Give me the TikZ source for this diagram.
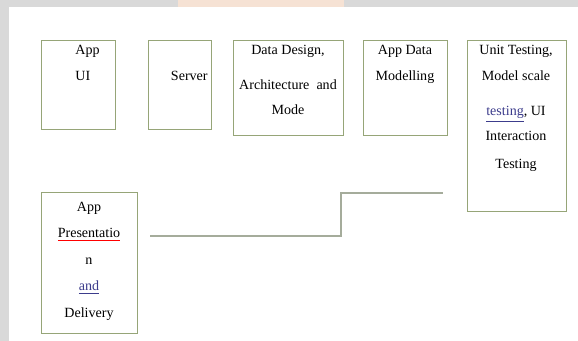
\documentclass[tikz,border=0pt]{standalone}
\usepackage{fontspec}
\setmainfont{Liberation Serif}
\usetikzlibrary{positioning}

\definecolor{boxgreen}{RGB}{150,165,120}
\definecolor{linegray}{RGB}{165,172,155}
\definecolor{pagegray}{RGB}{217,217,217}
\definecolor{wmark}{RGB}{246,226,212}
\definecolor{markblue}{RGB}{60,60,140}
\newcommand{\redline}[1]{\leavevmode\rlap{\color{red}\underline{\phantom{#1}}}#1}
\newcommand{\blueline}[1]{{\color{markblue}\underline{#1}}}

\begin{document}
\begin{tikzpicture}
[x=0.02cm,y=-0.02cm,
box/.style={rectangle,draw=boxgreen,line width=0.6pt,inner sep=0pt,anchor=north west},
words/.style={inner sep=0pt,font=\fontsize{8}{14.5}\selectfont},
link/.style={draw=linegray,line width=0.7pt}]
% page and margins
\fill[pagegray] (0,0) rectangle (578,341);
\useasboundingbox (0,0) rectangle (578,341);
\fill[wmark] (178,0) rectangle (344,7);
\fill[white] (9,7) rectangle (578,341);
% boxes
\node[box,minimum width=1.48cm,minimum height=1.78cm] (app ui) at (41,40) {};
\node[box,minimum width=1.26cm,minimum height=1.78cm] (server) at (148,40) {};
\node[box,minimum width=2.2cm,minimum height=1.9cm] (data design) at (233,40) {};
\node[box,minimum width=1.68cm,minimum height=1.9cm] (app data) at (363,40) {};
\node[box,minimum width=1.98cm,minimum height=3.42cm] (unit testing) at (467,40) {};
\node[box,minimum width=1.92cm,minimum height=2.82cm] (presentation) at (41,192) {};
% texts
\node[words,align=left,anchor=north west] (app ui text) at (75,45) {App\\UI};
\node[words,anchor=north east] (server text) at (208,71) {Server};
\node[words,align=center,anchor=north] (data design text) at (288,45)
  {Data Design,\\[5.3pt]Architecture\ \ and\\Mode};
\node[words,align=center,anchor=north] (app data text) at (405,45) {App Data\\Modelling};
\node[words,align=center,anchor=north] (unit testing text) at (516,45)
  {Unit Testing,\\Model scale\\\rule{0pt}{19pt}\blueline{testing}, UI\\Interaction\\[1.4pt]Testing};
\node[words,align=center,anchor=north,font=\fontsize{8}{15}\selectfont] (presentation text) at (89,202)
  {App\\\redline{Presentatio}\\n\\\blueline{and}\\Delivery};
% connector
\coordinate (link start) at (150,236);
\coordinate (link bend) at (341,236);
\coordinate (link end) at (443,193);
\draw[link] (link start) -- (link bend) |- (link end);
\end{tikzpicture}
\end{document}
